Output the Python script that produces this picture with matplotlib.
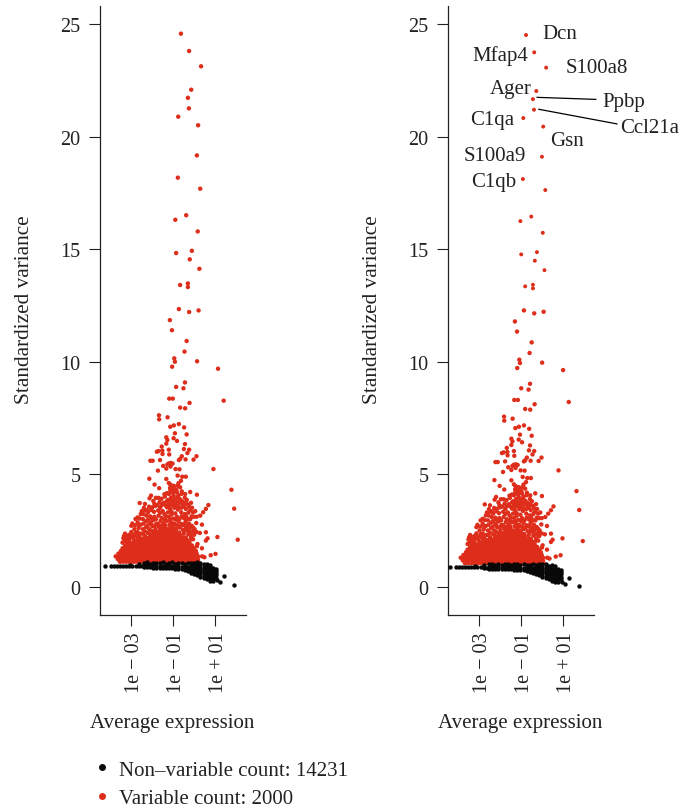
import matplotlib
matplotlib.use('Agg')
import matplotlib.pyplot as plt
from matplotlib.lines import Line2D
from matplotlib.ticker import NullLocator
from matplotlib.transforms import ScaledTranslation
import numpy as np

plt.rcParams['font.family'] = ['Liberation Serif', 'DejaVu Serif']

RED = '#DE2D1A'
BLACK = '#080808'
INK = '#222222'

# all x values are log10(average expression)

# sparse variable genes
top_x = [-0.63, -0.24, 0.33, -0.14, -0.30, -0.25, -0.76, 0.19, 0.13, -0.78, 0.29, -0.38, -0.90, 0.17, -0.11, -0.86,
         -0.21, 0.25, -0.67, -0.30, -0.30, -0.73, -0.24, 0.21, -1.16, -1.06, -0.36, -0.46, 0.14, -0.95, -0.92, -1.05,
         1.14, -0.44, -0.86, -0.51, -1.19, -1.02, 1.41, -0.22, -0.67, -0.43, -1.68, -1.67, -1.27, -0.73, -0.97, -1.14,
         -0.48, -0.92, -0.36, -1.33, -0.98, -1.28, -0.82, -1.33, -0.44, -1.55, -0.49, -0.24, -1.21, -1.70, -1.52, -0.32,
         -1.78, -1.51, -1.19, -0.59, 0.11, -0.67, -0.03, -0.73, -0.41, -2.09, -1.98, -1.63, -1.21, -1.11, -1.03, -1.28,
         -1.48, -1.13, -1.33, -0.89, -0.70, 0.92, -1.73, -0.79, -0.57, -0.40, -2.14, -1.33, -0.63, -1.21, -1.89, -0.75,
         -1.14, -1.67, -0.94, -0.79, -0.67, 1.78, -1.02, -1.14, -0.59, -0.19, 0.13, -2.06, -1.21, -0.82, -0.43, -0.98]
top_y = [24.57, 23.80, 23.12, 22.08, 21.72, 21.25, 20.88, 20.50, 19.16, 18.17, 17.68, 16.50, 16.30, 15.78, 14.92, 14.82,
         14.54, 14.12, 13.40, 13.47, 13.31, 12.33, 12.20, 12.27, 11.84, 11.39, 10.91, 10.44, 10.01, 10.14, 9.99, 9.77,
         9.68, 9.07, 8.87, 8.81, 8.35, 8.35, 8.26, 8.16, 7.95, 7.92, 7.61, 7.43, 7.52, 7.22, 7.16, 7.10,
         7.07, 6.81, 6.76, 6.63, 6.59, 6.51, 6.47, 6.35, 6.33, 6.22, 6.11, 6.08, 6.08, 6.02, 6.04, 5.93,
         5.99, 5.89, 5.87, 5.79, 5.79, 5.67, 5.64, 5.62, 5.65, 5.59, 5.59, 5.62, 5.47, 5.49, 5.46, 5.42,
         5.36, 5.33, 5.24, 5.22, 5.21, 5.22, 5.15, 4.93, 4.88, 4.88, 4.79, 4.78, 4.70, 4.60, 4.53, 4.59,
         4.53, 4.37, 4.45, 4.48, 4.41, 4.30, 4.33, 4.26, 4.23, 4.20, 4.08, 4.04, 4.11, 4.19, 4.11, 4.04]

# middle of the red cloud
mid_x = [-2.13, -2.60, -2.35, -1.83, -1.70, -1.56, -1.40, -1.25, -1.10, -0.90, -0.78, -0.60, -0.45, -0.35, -0.15,
         -1.95, -1.65, -1.45, -1.20, -1.02, -0.88, -0.70, -0.55, -0.42, -0.25, -0.10, -2.40, -2.15, -2.00, -1.85,
         -1.62, -1.30, -1.15, -0.95, -0.78, -0.40, -0.05, 0.05, -2.50, -2.35, -2.55, -2.20, -2.05, -1.92, -1.72,
         -1.50, -1.25, -1.08, -0.90, -0.62, -0.45, -0.28, -0.12, -0.02, -2.70, -2.80, -2.10, -1.90, -1.70, -1.55,
         -1.35, -1.20, -1.00, -0.82, -0.70, -0.50, -0.30, 0.12, -2.95, -3.00, -2.70, -2.55, -2.30, -2.10, -1.95,
         -1.80, -1.60, -1.45, -1.28, -1.10, -0.95, -0.75, -0.60, -0.42, -0.25, -0.12, 0.10, -2.85, -2.65, -2.45,
         -2.30, -2.15, -2.00, -1.85, -1.68, -1.52, -1.38, -1.22, -1.05, -0.88, -0.72, -0.55, -0.38, -0.22, -0.05,
         -3.35, -3.38, -3.30, -3.22, -3.10, -3.00, -2.85, -2.90, -2.70, -2.72, -2.55, -2.50, -2.35, -2.35, -2.20,
         -2.05, -1.85, -1.65, -1.42, -1.20, -0.98, -0.72, -0.50, -0.28, -0.15, -0.05, -3.32, -3.10, -2.78]
mid_y = [3.92, 3.71, 3.67, 3.94, 3.94, 3.90, 4.00, 3.85, 3.95, 3.90, 3.98, 3.80, 3.95, 3.85, 3.72,
         3.80, 3.75, 3.72, 3.68, 3.75, 3.62, 3.70, 3.62, 3.70, 3.55, 3.50, 3.50, 3.55, 3.52, 3.58,
         3.50, 3.52, 3.45, 3.50, 3.42, 3.45, 3.30, 3.35, 3.35, 3.38, 3.22, 3.30, 3.40, 3.32, 3.38,
         3.35, 3.30, 3.32, 3.25, 3.30, 3.22, 3.28, 3.12, 3.10, 3.07, 3.00, 3.12, 3.10, 3.15, 3.05,
         3.12, 3.10, 3.02, 3.10, 3.00, 3.05, 3.00, 3.10, 2.80, 2.70, 2.85, 2.75, 2.90, 2.85, 2.95,
         2.80, 2.92, 2.82, 2.92, 2.85, 2.80, 2.88, 2.78, 2.85, 2.80, 2.70, 2.82, 2.55, 2.60, 2.55,
         2.65, 2.55, 2.68, 2.55, 2.65, 2.58, 2.68, 2.55, 2.65, 2.55, 2.62, 2.52, 2.60, 2.55, 2.45,
         2.25, 2.15, 2.35, 2.10, 2.30, 2.42, 2.28, 2.12, 2.42, 2.22, 2.35, 2.12, 2.45, 2.25, 2.38,
         2.48, 2.42, 2.40, 2.45, 2.40, 2.42, 2.40, 2.35, 2.32, 2.20, 2.10, 2.02, 2.05, 2.02]

# more of the same region, where the cloud is thicker
fill_x = [-1.30, -1.05, -0.92, -0.75, -0.60, -1.42, -1.15, -0.85, -1.00, -1.30, -1.12, -0.98, -0.82, -0.68, -0.52,
          -1.38, -1.25, -1.08, -0.95, -0.78, -0.62, -0.48, -0.30, -0.20, -1.55, -1.75, -1.90, -2.25, -2.42, -2.28,
          -2.60, -2.45, -2.20, -2.02, -1.82, -1.62, -1.42, -1.40, -1.15, -1.08, -0.88, -0.60, -0.38, -0.18, -0.40,
          -2.82, -2.62, -2.42, -2.22, -2.05, -1.88, -1.72, -1.55, -1.40, -1.18, -1.00, -0.82, -0.65, -0.48, -0.32,
          -0.18, -0.05, 0.02, 0.12, 0.00, -0.12, -0.28, -0.45, -0.15, -3.20, -3.28, -3.15, -3.05, -2.95, -2.65,
          -2.80, -2.45, -2.60, -2.38, -3.42, -3.20]
fill_y = [4.15, 4.18, 4.22, 4.05, 4.12, 4.10, 4.38, 4.30, 4.48, 3.80, 3.82, 3.82, 3.78, 3.88, 3.75,
          3.62, 3.58, 3.62, 3.65, 3.55, 3.50, 3.55, 3.65, 3.38, 3.62, 3.62, 3.68, 3.40, 3.22, 3.15,
          3.02, 3.00, 2.98, 3.02, 3.00, 3.28, 3.22, 2.98, 2.98, 3.20, 2.98, 3.12, 3.12, 3.00, 2.95,
          2.72, 2.72, 2.80, 2.72, 2.78, 2.70, 2.78, 2.72, 2.75, 2.74, 2.72, 2.72, 2.68, 2.72, 2.68,
          2.68, 2.62, 2.55, 2.42, 2.30, 2.38, 2.45, 2.48, 2.10, 2.22, 2.28, 2.15, 2.20, 2.25, 2.30,
          2.38, 2.35, 2.18, 2.15, 1.95, 1.95]

# outliers on the right side of the cloud
side_x = [1.91, 2.08, 1.11, 1.02, 0.79, 0.68, 0.56, 0.43, 0.29, 0.56, 0.27, 0.64, 0.56, 0.37, 0.37, 0.16, 0.13, 0.38, 0.49]
side_y = [3.46, 2.08, 2.20, 1.45, 1.39, 3.62, 3.45, 3.30, 3.15, 2.41, 2.38, 2.14, 2.04, 2.75, 1.70, 1.89, 1.79, 1.34, 1.30]

# the solid part of the cloud, one list per level of variance
core_levels = [1.10, 1.22, 1.34, 1.46, 1.58, 1.70, 1.82, 1.94, 2.06, 2.18, 2.30, 2.42, 2.54]
core_x = [
    [-3.55, -3.42, -3.27, -3.13, -2.98, -2.85, -2.70, -2.57, -2.42, -2.28, -2.14, -2.00, -1.86, -1.72, -1.58, -1.44,
     -1.30, -1.16, -1.02, -0.88, -0.74, -0.60, -0.46, -0.32, -0.18, -0.04, 0.10, 0.20],
    [-3.65, -3.50, -3.36, -3.22, -3.08, -2.93, -2.79, -2.65, -2.50, -2.36, -2.22, -2.07, -1.93, -1.79, -1.65, -1.51,
     -1.37, -1.23, -1.09, -0.95, -0.81, -0.67, -0.53, -0.39, -0.25, -0.11, 0.03, 0.18],
    [-3.75, -3.60, -3.44, -3.30, -3.15, -3.00, -2.86, -2.72, -2.58, -2.43, -2.29, -2.15, -2.01, -1.87, -1.72, -1.58,
     -1.44, -1.30, -1.16, -1.02, -0.88, -0.74, -0.60, -0.46, -0.32, -0.18, -0.04, 0.08, 0.18],
    [-3.62, -3.47, -3.33, -3.18, -3.04, -2.90, -2.76, -2.61, -2.47, -2.33, -2.19, -2.05, -1.91, -1.77, -1.62, -1.48,
     -1.34, -1.20, -1.06, -0.92, -0.78, -0.64, -0.50, -0.36, -0.22, -0.08, 0.04, 0.12],
    [-3.50, -3.36, -3.22, -3.07, -2.93, -2.79, -2.65, -2.51, -2.37, -2.22, -2.08, -1.94, -1.80, -1.66, -1.52, -1.38,
     -1.24, -1.10, -0.96, -0.82, -0.68, -0.54, -0.40, -0.26, -0.12, 0.00, 0.08],
    [-3.42, -3.25, -3.10, -2.96, -2.82, -2.68, -2.54, -2.40, -2.26, -2.12, -1.98, -1.84, -1.70, -1.56, -1.42, -1.28,
     -1.14, -1.00, -0.86, -0.72, -0.58, -0.44, -0.30, -0.16, -0.02],
    [-3.30, -3.12, -2.97, -2.83, -2.69, -2.55, -2.41, -2.27, -2.13, -1.99, -1.85, -1.71, -1.57, -1.43, -1.29, -1.15,
     -1.01, -0.87, -0.73, -0.59, -0.45, -0.31, -0.19, -0.10],
    [-3.05, -2.90, -2.75, -2.61, -2.47, -2.33, -2.19, -2.05, -1.91, -1.77, -1.63, -1.49, -1.35, -1.21, -1.07, -0.93,
     -0.79, -0.65, -0.51, -0.37, -0.22],
    [-2.62, -2.46, -2.30, -2.16, -2.02, -1.88, -1.74, -1.60, -1.46, -1.32, -1.18, -1.04, -0.90, -0.76, -0.62, -0.45, -0.33],
    [-2.70, -2.30, -2.12, -2.00, -1.90, -1.78, -1.62, -1.50, -1.36, -1.22, -1.12, -0.94, -0.82, -0.66, -0.54, -0.40],
    [-2.10, -1.95, -1.80, -1.68, -1.52, -1.40, -1.25, -1.10, -0.95, -0.80, -0.68],
    [-1.92, -1.75, -1.58, -1.30, -1.14, -1.00, -0.85],
    [-1.62, -1.46, -1.28, -1.12, -0.98],
]

# non-variable genes: thin tail on the left, outliers on the right
tail_x = [-4.28, -3.97, -3.85, -3.70, -3.55, -3.40, -3.25, -3.10, -2.95, -2.80, -2.65, -2.50, -3.05, -2.62, 1.44, 1.21, 1.90, 1.07]
tail_y = [0.93, 0.93, 0.93, 0.93, 0.93, 0.92, 0.92, 0.92, 0.91, 0.91, 0.90, 0.90, 0.97, 1.02, 0.45, 0.19, 0.08, 0.27]

# non-variable genes: columns of the thick band
band_x = [-2.40, -2.25, -2.10, -1.95, -1.80, -1.65, -1.50, -1.35, -1.20, -1.05, -0.90, -0.75, -0.60, -0.45, -0.30,
          -0.15, 0.00, 0.15, 0.30, 0.45, 0.60, 0.75, 0.90, 1.05]
band_y = [
    [0.86, 0.94, 1.05], [0.86, 0.95, 1.07], [0.85, 0.94, 1.02], [0.84, 0.93, 1.05], [0.84, 0.93, 1.03],
    [0.83, 0.93, 1.04], [0.82, 0.92, 1.07], [0.82, 0.92, 1.02], [0.81, 0.92, 1.04], [0.81, 0.92, 1.08],
    [0.80, 0.90, 1.02], [0.79, 0.90, 1.05], [0.77, 0.88, 1.03], [0.72, 0.83, 0.93, 1.02], [0.68, 0.78, 0.88, 1.06],
    [0.62, 0.72, 0.82, 0.92, 1.03], [0.56, 0.66, 0.76, 0.86, 0.96, 1.06], [0.50, 0.60, 0.70, 0.80, 0.90, 1.00, 1.07],
    [0.44, 0.54, 0.64, 0.74, 0.84, 0.94, 1.04], [0.38, 0.48, 0.58, 0.68, 0.78, 0.88, 0.98],
    [0.32, 0.42, 0.52, 0.62, 0.72, 0.82, 0.92, 1.02], [0.26, 0.36, 0.46, 0.56, 0.66, 0.76, 0.86, 0.95],
    [0.24, 0.34, 0.44, 0.54, 0.64, 0.74, 0.84], [0.40, 0.50, 0.60, 0.70, 0.80],
]

# gene labels of the right panel
gene_names = ['Dcn', 'Mfap4', 'S100a8', 'Ager', 'Ppbp', 'Ccl21a', 'C1qa', 'Gsn', 'S100a9', 'C1qb']
gene_x = [0.82, -2.00, 2.61, -1.52, 3.90, 5.12, -2.38, 1.19, -2.25, -2.33]
gene_y = [24.56, 23.63, 23.08, 22.13, 21.56, 20.41, 20.74, 19.81, 19.14, 18.01]

tick_pos = [-3, -1, 1]
tick_labels = ['1e \u2212 03', '1e \u2212 01', '1e + 01']

red_x = list(top_x) + list(mid_x) + list(fill_x) + list(side_x)
red_y = list(top_y) + list(mid_y) + list(fill_y) + list(side_y)
for level, xs in zip(core_levels, core_x):
    red_x += xs
    red_y += [level] * len(xs)

black_x = list(tail_x)
black_y = list(tail_y)
for x, ys in zip(band_x, band_y):
    black_x += [x] * len(ys)
    black_y += ys

red_x = np.array(red_x)
red_y = np.array(red_y)
black_x = np.array(black_x)
black_y = np.array(black_y)

W, H = 681, 812
fig = plt.figure(figsize=(W / 100, H / 100), dpi=100)


def make_panel(left_px, shift_x=0.0, shift_y=0.0, top_size=10):
    ax = fig.add_axes([left_px / W, 1 - 615.5 / H, 146.4 / W, 608.5 / H])
    sizes = np.where(red_y > 13, top_size, 10)
    ax.scatter(10 ** (red_x + shift_x), red_y + shift_y, s=sizes, color=RED, linewidths=0, zorder=2)
    ax.scatter(10 ** (black_x + shift_x), black_y + shift_y, s=10, color=BLACK, linewidths=0, zorder=3)
    ax.set_xscale('log')
    ax.set_xlim(10 ** -4.51, 10 ** 2.48)
    ax.set_ylim(-1.244, 25.8)
    ax.set_xticks([10.0 ** p for p in tick_pos])
    ax.set_xticklabels(tick_labels, rotation=90, fontsize=14.5, color=INK)
    ax.xaxis.set_minor_locator(NullLocator())
    ax.set_yticks([0, 5, 10, 15, 20, 25])
    ax.tick_params(axis='both', length=8, width=0.8, color=INK, labelsize=14.5, labelcolor=INK)
    ax.tick_params(axis='x', pad=4)
    ax.tick_params(axis='y', pad=6)
    # rotated labels sit a little left of their ticks otherwise
    nudge = ScaledTranslation(3 / 100, 0, fig.dpi_scale_trans)
    for label in ax.get_xticklabels():
        label.set_transform(label.get_transform() + nudge)
    ax.spines['top'].set_visible(False)
    ax.spines['right'].set_visible(False)
    ax.spines['left'].set_linewidth(0.9)
    ax.spines['bottom'].set_linewidth(0.9)
    ax.spines['left'].set_color(INK)
    ax.spines['bottom'].set_color(INK)
    ax.set_xlabel('Average expression', fontsize=15, color=INK)
    ax.xaxis.set_label_coords(0.495, 1 - (724 - 7) / 608.5, transform=ax.transAxes)
    ax.xaxis.label.set_va('center')
    ax.set_ylabel('Standardized variance', fontsize=15.3, color=INK)
    ax.yaxis.set_label_coords(-75 / 146.4, 0.502, transform=ax.transAxes)
    ax.yaxis.label.set_va('center')
    return ax


ax1 = make_panel(99.7)
ax2 = make_panel(447.7, shift_x=-0.14, shift_y=-0.06, top_size=8)

for name, x, y in zip(gene_names, gene_x, gene_y):
    ax2.text(10.0 ** x, y, name, fontsize=15, color=INK, ha='center', va='center', clip_on=False)

# connector lines for the two labels pushed away from their points
ax2.plot([10 ** -0.24, 10 ** 2.56], [21.74, 21.65], color='black', lw=0.9, clip_on=False)
ax2.plot([10 ** -0.16, 10 ** 3.57], [21.21, 20.56], color='black', lw=0.9, clip_on=False)

handles = [Line2D([], [], linestyle='none', marker='o', markersize=5, color=BLACK, markeredgewidth=0),
           Line2D([], [], linestyle='none', marker='o', markersize=5, color=RED, markeredgewidth=0)]
fig.legend(handles, ['Non\u2013variable count: 14231', 'Variable count: 2000'], loc='upper left',
           bbox_to_anchor=(92 / W, 1 - 761 / H), frameon=False, fontsize=15, labelcolor=INK, handlelength=1,
           handletextpad=0.3, labelspacing=0.42, borderpad=0, borderaxespad=0)

fig.savefig('out.png', dpi=100)
